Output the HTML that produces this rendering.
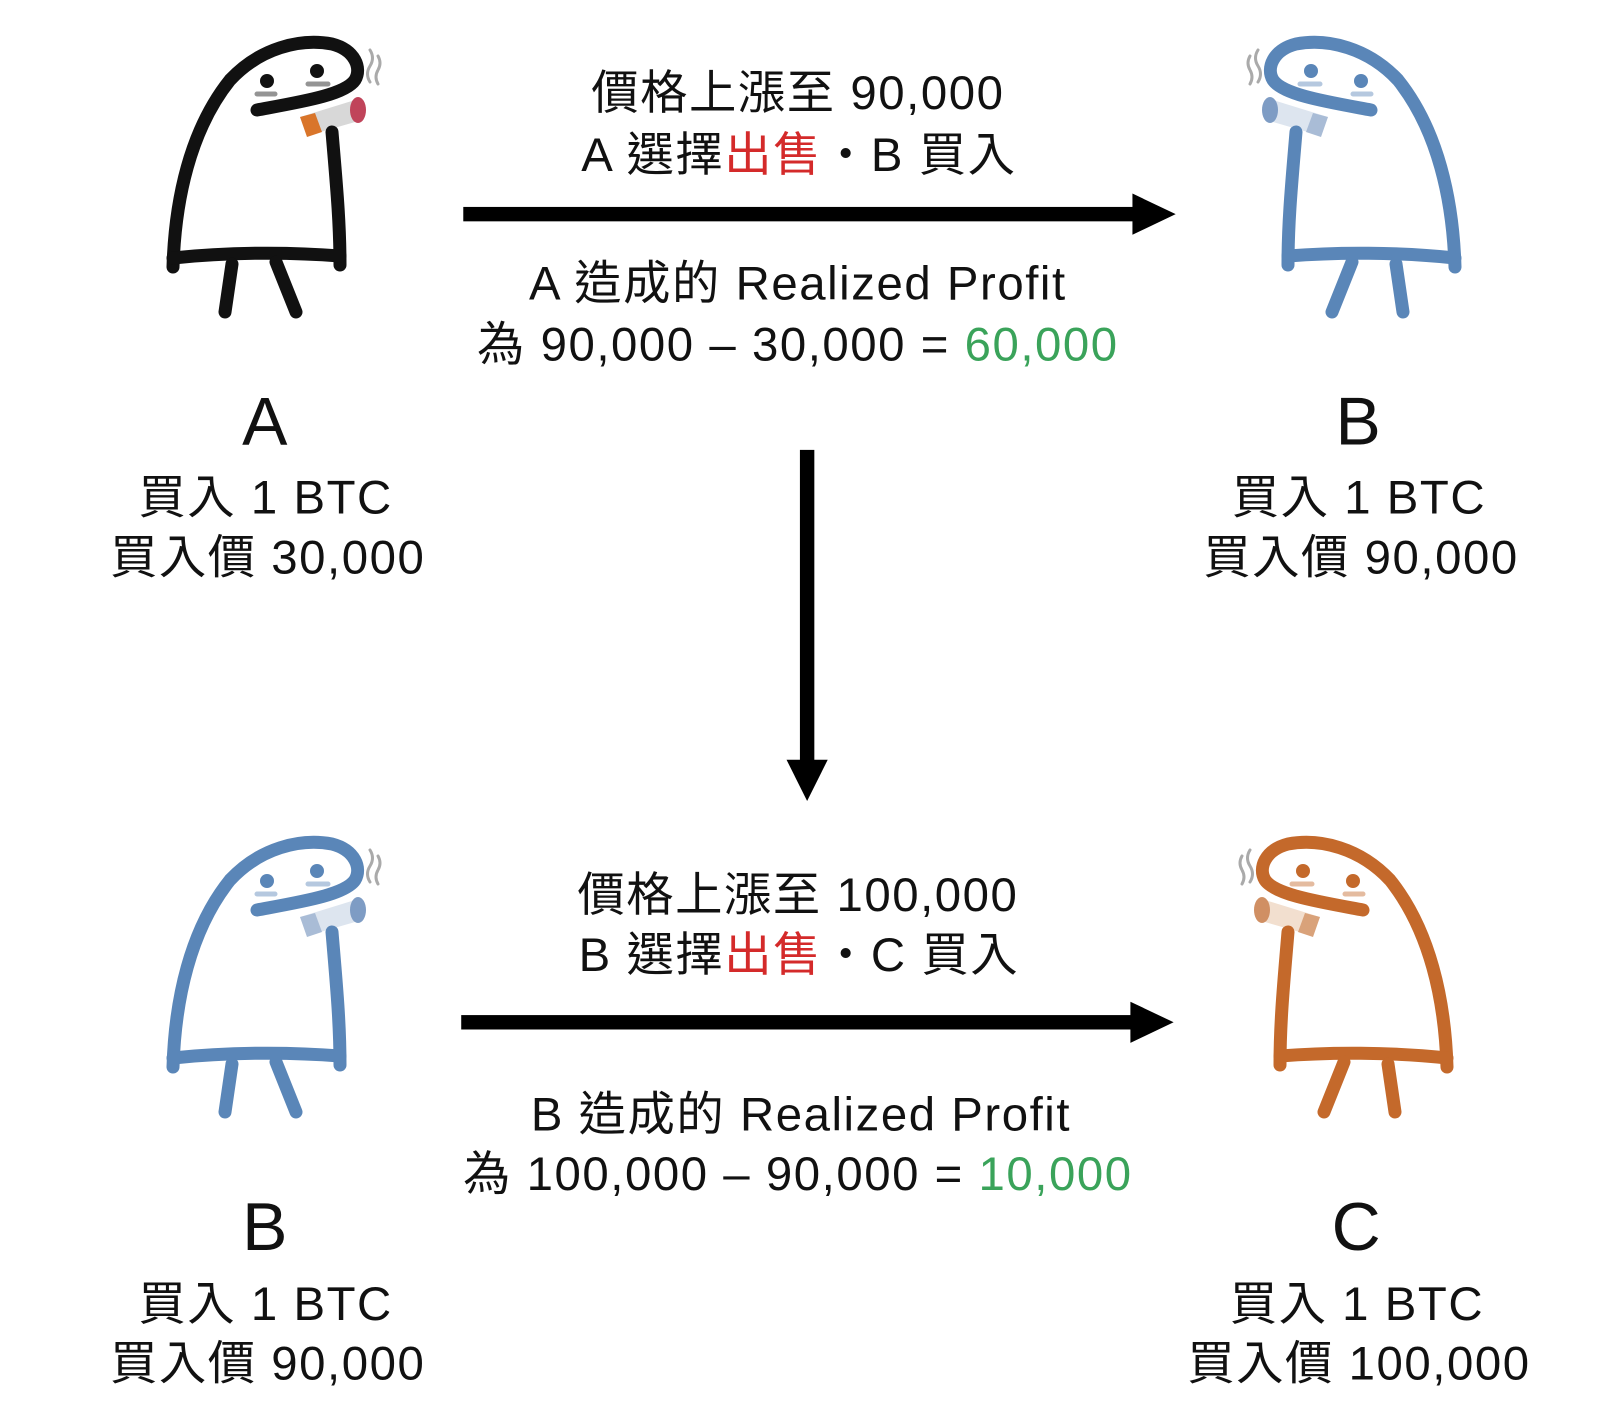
<!DOCTYPE html>
<html><head><meta charset="utf-8">
<style>
html,body{margin:0;padding:0;background:#fff;}
svg{display:block;}
text{font-family:"Liberation Sans","Noto Sans CJK TC",sans-serif;fill:#111;}
</style></head>
<body>
<svg width="1606" height="1418" viewBox="0 0 1606 1418" xmlns="http://www.w3.org/2000/svg">
<defs>
<g id="fig" fill="none" stroke-linecap="round" stroke-linejoin="round">
  <g stroke="none">
    <path d="M150 97 L205 80 L212 100 L160 115 Z" fill="var(--cig,#d8d8d8)"/>
    <path d="M150 97 L165 93 L172 112 L157 117 Z" fill="var(--filt,#d9752a)"/>
    <ellipse cx="208" cy="90" rx="8" ry="13" fill="var(--tip,#c0445a)"/>
  </g>
  <path d="M220 62 q-5 -8 0 -16 q5 -8 0 -16 M228 64 q-4 -7 0 -14 q4 -7 0 -14" stroke="#aaa" stroke-width="3"/>
  <path d="M23 247 C25 180 40 110 80 60 C110 28 150 18 182 24 C205 30 212 48 205 60 C195 75 150 82 107 90" stroke="currentColor" stroke-width="13"/>
  <path d="M182 112 C186 160 190 200 190 245" stroke="currentColor" stroke-width="13"/>
  <path d="M23 238 C80 232 140 232 190 236" stroke="currentColor" stroke-width="13"/>
  <path d="M82 244 L75 292 M126 242 L146 292" stroke="currentColor" stroke-width="13"/>
  <circle cx="117" cy="61" r="7" fill="currentColor"/>
  <circle cx="167" cy="51" r="7" fill="currentColor"/>
  <path d="M107 74 L125 74 M158 64 L178 64" stroke="currentColor" stroke-opacity="0.45" stroke-width="5"/>
</g>
</defs>

<g transform="translate(150,20)" style="color:#111"><use href="#fig"/></g>
<g transform="translate(1478,20) scale(-1,1)" style="color:#5a86b8;--cig:#dde5ef;--filt:#a9bcd6;--tip:#7e9cc4"><use href="#fig"/></g>
<g transform="translate(150,820)" style="color:#5a86b8;--cig:#dde5ef;--filt:#a9bcd6;--tip:#7e9cc4"><use href="#fig"/></g>
<g transform="translate(1470,820) scale(-1,1)" style="color:#c4692b;--cig:#f2dfcf;--filt:#d9a27a;--tip:#d08f63"><use href="#fig"/></g>

<g transform="scale(1.0295)">
  <rect x="450" y="201" width="655" height="14" fill="#000"/>
  <polygon points="1100,188 1142,208 1100,228" fill="#000"/>
  <rect x="777" y="437" width="14" height="305" fill="#000"/>
  <polygon points="764,738 804,738 784,778" fill="#000"/>
  <rect x="448" y="986" width="655" height="14" fill="#000"/>
  <polygon points="1098,973 1140,993 1098,1013" fill="#000"/>

  <g font-size="46" text-anchor="middle" letter-spacing="1.5">
    <text x="775" y="106">價格上漲至 90,000</text>
    <text x="776" y="166">A 選擇<tspan fill="#d42a2a">出售</tspan>・B 買入</text>
    <text x="775" y="291">A 造成的 Realized Profit</text>
    <text x="775" y="350">為 90,000 – 30,000 = <tspan fill="#3aa35a">60,000</tspan></text>

    <text x="775" y="885">價格上漲至 100,000</text>
    <text x="776" y="943">B 選擇<tspan fill="#d42a2a">出售</tspan>・C 買入</text>
    <text x="778" y="1098">B 造成的 Realized Profit</text>
    <text x="775" y="1156">為 100,000 – 90,000 = <tspan fill="#3aa35a">10,000</tspan></text>

    <text x="258" y="432" font-size="66">A</text>
    <text x="258" y="499">買入 1 BTC</text>
    <text x="260" y="557">買入價 30,000</text>

    <text x="1320" y="432" font-size="66">B</text>
    <text x="1320" y="499">買入 1 BTC</text>
    <text x="1322" y="557">買入價 90,000</text>

    <text x="258" y="1214" font-size="66">B</text>
    <text x="258" y="1282">買入 1 BTC</text>
    <text x="260" y="1340">買入價 90,000</text>

    <text x="1318" y="1214" font-size="66">C</text>
    <text x="1318" y="1282">買入 1 BTC</text>
    <text x="1320" y="1340">買入價 100,000</text>
  </g>
</g>
</svg>
</body></html>
